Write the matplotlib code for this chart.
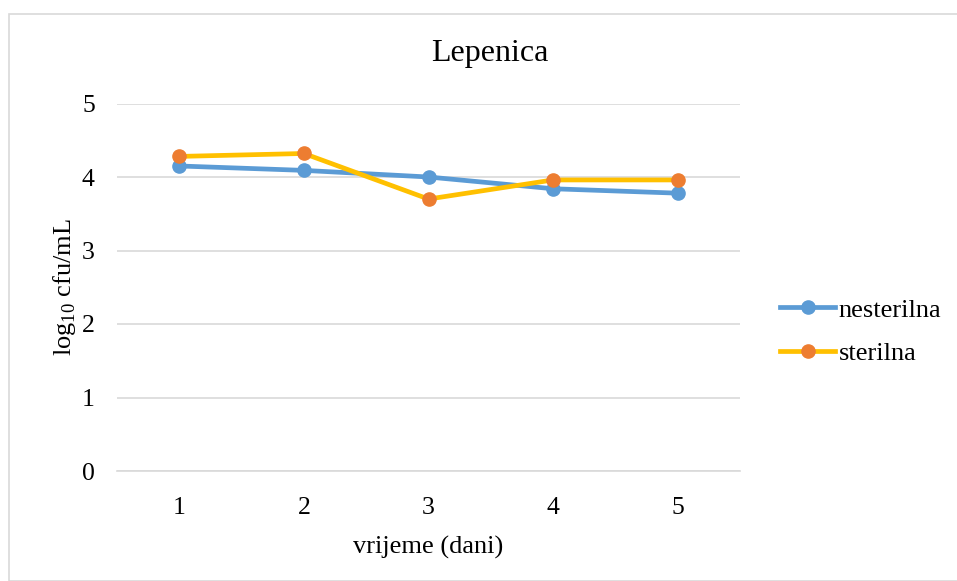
import matplotlib
matplotlib.use("Agg")
import matplotlib.pyplot as plt
from matplotlib.patches import Rectangle

days = [1, 2, 3, 4, 5]
nesterilna = [4.15, 4.09, 4.00, 3.84, 3.78]
sterilna = [4.28, 4.32, 3.70, 3.96, 3.96]
yticks = [0, 1, 2, 3, 4, 5]

plt.rcParams['font.family'] = ['Liberation Serif', 'DejaVu Serif']
plt.rcParams['mathtext.fontset'] = 'custom'
plt.rcParams['mathtext.rm'] = 'Liberation Serif'

W, H = 957, 581
fig = plt.figure(figsize=(W / 100, H / 100), dpi=100)
fig.patches.append(Rectangle((8.5 / W, 0), 1.2, 1 - 13.5 / H, transform=fig.transFigure,
                             fill=False, edgecolor='#d9d9d9', linewidth=1.2))

ax = fig.add_axes([117 / W, 1 - 471 / H, (740 - 117) / W, (471 - 103.5) / H])
ax.plot(days, nesterilna, color='#5b9bd5', linewidth=3.4, marker='o', markersize=9.5,
        markerfacecolor='#5b9bd5', markeredgecolor='#5b9bd5', label='nesterilna', zorder=3)
ax.plot(days, sterilna, color='#ffc000', linewidth=3.4, marker='o', markersize=9.5,
        markerfacecolor='#ed7d31', markeredgecolor='#ed7d31', label='sterilna', zorder=4)

ax.set_xlim(0.5, 5.5)
ax.set_ylim(0, 5)
ax.set_xticks(days)
ax.set_yticks(yticks)
ax.tick_params(length=0, labelsize=18.5, colors='#000000')
ax.tick_params(axis='x', pad=19)
ax.tick_params(axis='y', pad=16)
ax.grid(axis='y', color='#d9d9d9', linewidth=1.2)
ax.set_axisbelow(True)
for s in ['top', 'right', 'left']:
    ax.spines[s].set_visible(False)
ax.spines['bottom'].set_color('#d9d9d9')
ax.spines['bottom'].set_linewidth(1.2)

fig.text(490 / W, 1 - 53 / H, 'Lepenica', fontsize=23, ha='center', va='center')
ax.set_xlabel('vrijeme (dani)', fontsize=19, labelpad=12)
ax.set_ylabel(r'log$_{10}$ cfu/mL', fontsize=19, labelpad=3)

ax.legend(loc='center left', bbox_to_anchor=(780 / W, 1 - 331.5 / H),
          bbox_transform=fig.transFigure, borderpad=0, borderaxespad=0,
          frameon=False, fontsize=19,
          handlelength=2.1, handletextpad=0.12, labelspacing=0.75)

fig.savefig('out.png', dpi=100)
